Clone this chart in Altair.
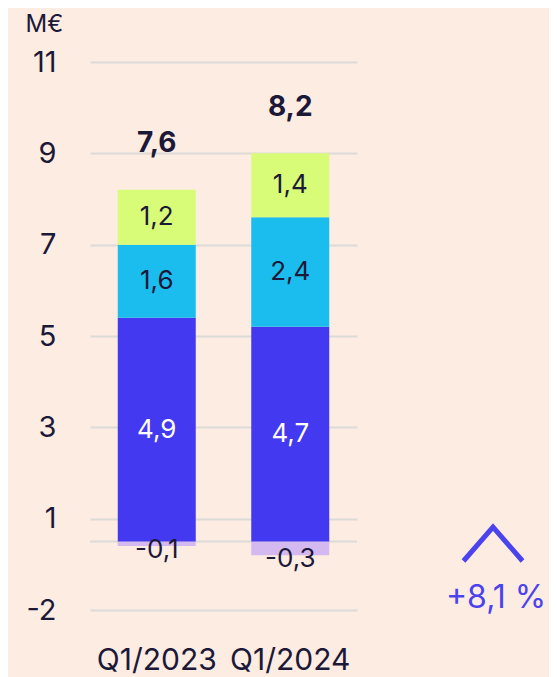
import altair as alt
import pandas as pd

# ---- data ----
quarters = ["Q1/2023", "Q1/2024"]
segments = ["neg", "base", "mid", "top"]
values_2023 = [-0.1, 4.9, 1.6, 1.2]
values_2024 = [-0.3, 4.7, 2.4, 1.4]
labels_2023 = ["-0,1", "4,9", "1,6", "1,2"]
labels_2024 = ["-0,3", "4,7", "2,4", "1,4"]
totals = [7.6, 8.2]
total_labels = ["7,6", "8,2"]
grid_values = [-1.5, 0.5, 2.5, 4.5, 6.5, 8.5, 10.5]
tick_labels = ["-2", "1", "3", "5", "7", "9", "11"]
change_label = "+8,1 %"
unit_label = "M€"

# ---- style ----
colors = ["#D3B9F0", "#4339F0", "#1BBDEE", "#D8FC78"]
bg = "#FDECE2"
dark = "#1B1838"
accent = "#4A43EE"
grid_color = "#DEDAD7"
font = "Inter"

rows = []
for q, vals, labs, tl in zip(quarters, [values_2023, values_2024],
                             [labels_2023, labels_2024], total_labels):
    for i, (s, v, l) in enumerate(zip(segments, vals, labs)):
        rows.append({"quarter": q, "segment": s, "order": i, "value": v,
                     "label": l, "total_label": tl if s == "top" else ""})
df = pd.DataFrame(rows)

label_expr = " : ".join(
    f"datum.value == {v} ? '{t}'" for v, t in zip(grid_values, tick_labels)
) + " : ''"

yscale = alt.Scale(domain=[grid_values[0], grid_values[-1]], nice=False, zero=False)
xenc = alt.X("quarter:N", sort=quarters,
             scale=alt.Scale(paddingInner=0, paddingOuter=0),
             axis=alt.Axis(title=None, domain=False, ticks=False, labelAngle=0,
                           labelFontSize=30, labelColor=dark, labelFont=font,
                           labelPadding=50, labelBaseline="middle", grid=False))

base = alt.Chart(df)

bars = base.mark_bar(size=78).encode(
    x=xenc,
    y=alt.Y("value:Q", stack="zero", scale=yscale,
            axis=alt.Axis(values=grid_values, labelExpr=label_expr, title=unit_label,
                          grid=True, gridColor=grid_color, gridWidth=2,
                          domain=False, ticks=False, labelFontSize=29,
                          labelColor=dark, labelFont=font, labelPadding=34,
                          titleAngle=0, titleAlign="left", titleBaseline="middle",
                          titleX=-65, titleY=-38, titleFontSize=24,
                          titleFontWeight="normal", titleColor=dark, titleFont=font)),
    color=alt.Color("segment:N", scale=alt.Scale(domain=segments, range=colors), legend=None),
    order=alt.Order("order:Q"),
)

zero_rule = alt.Chart(pd.DataFrame({"y": [0]})).mark_rule(
    color=grid_color, strokeWidth=2).encode(y=alt.Y("y:Q", scale=yscale))

stacked = base.transform_stack(
    stack="value", groupby=["quarter"], as_=["y0", "y1"],
    sort=[alt.SortField("order", "ascending")]
).transform_calculate(
    mid="(datum.y0 + datum.y1) / 2",
    low="min(datum.y0, datum.y1)",
    top="max(datum.y0, datum.y1) + 1.0",
)

seg_text = stacked.transform_filter("datum.value > 0").mark_text(
    fontSize=26, font=font, baseline="middle").encode(
    x=alt.X("quarter:N", sort=quarters),
    y=alt.Y("mid:Q", scale=yscale),
    text="label:N",
    color=alt.condition("datum.segment == 'base'", alt.value("white"), alt.value(dark)),
)

neg_text = stacked.transform_filter("datum.value < 0").mark_text(
    fontSize=26, font=font, baseline="middle", dy=4, color=dark).encode(
    x=alt.X("quarter:N", sort=quarters),
    y=alt.Y("low:Q", scale=yscale),
    text="label:N",
)

total_text = stacked.transform_filter("datum.segment == 'top'").mark_text(
    fontSize=28, font=font, fontWeight="bold", baseline="middle", color=dark).encode(
    x=alt.X("quarter:N", sort=quarters),
    y=alt.Y("top:Q", scale=yscale),
    text="total_label:N",
)

ann = pd.DataFrame({"label": [change_label]})
chevron = alt.Chart(ann).mark_point(
    shape="M-1,0.576L0,-0.576L1,0.576", filled=False, size=3481,
    strokeWidth=5, color=accent, strokeCap="butt", opacity=1).encode(
    x=alt.value(403), y=alt.value(482))
change_text = alt.Chart(ann).mark_text(
    fontSize=32, font=font, color=accent, baseline="middle").encode(
    x=alt.value(406), y=alt.value(536), text="label:N")

chart = alt.layer(zero_rule, bars, seg_text, neg_text, total_text, chevron, change_text).properties(
    width=267, height=548,
    autosize=alt.AutoSizeParams(type="none"),
    padding={"left": 82, "top": 54, "right": 192, "bottom": 67},
    background=bg,
).configure_view(stroke=None)

chart.save("out.html", embed_options={"renderer": "svg", "actions": False})
